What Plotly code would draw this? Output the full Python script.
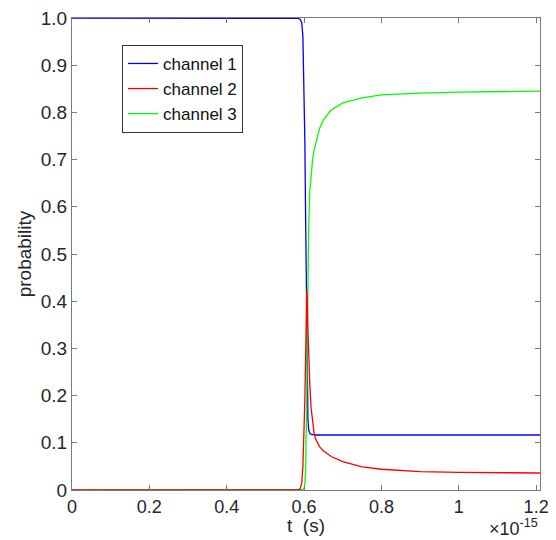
import plotly.graph_objects as go

# time in units of 1e-15 s
t = [0.0, 0.2, 0.4, 0.55, 0.58, 0.585, 0.59, 0.594, 0.597, 0.600, 0.602, 0.604, 0.606,
     0.607, 0.608, 0.610, 0.612, 0.615, 0.618, 0.622, 0.626, 0.630, 0.640, 0.650,
     0.670, 0.700, 0.750, 0.800, 0.900, 1.000, 1.100, 1.210]

channel_1 = [1.0, 1.0, 1.0, 1.0, 0.999, 0.999, 0.997, 0.99, 0.96, 0.86, 0.74, 0.58, 0.40,
             0.32, 0.24, 0.15, 0.127, 0.12, 0.118, 0.117, 0.1166, 0.1165, 0.1165, 0.1165,
             0.1165, 0.1165, 0.1165, 0.1165, 0.1165, 0.1165, 0.1165, 0.1165]

channel_2 = [0.0, 0.0, 0.0, 0.0, 0.0, 0.0, 0.003, 0.015, 0.05, 0.12, 0.19, 0.28, 0.39,
             0.424, 0.41, 0.34, 0.28, 0.22, 0.175, 0.14, 0.12, 0.108, 0.092, 0.083,
             0.071, 0.060, 0.049, 0.044, 0.039, 0.0375, 0.0365, 0.036]

channel_3 = [0.0, 0.0, 0.0, 0.0, 0.0, 0.0, 0.0, 0.0, 0.001, 0.004, 0.012, 0.04, 0.12,
             0.20, 0.30, 0.46, 0.56, 0.635, 0.672, 0.70, 0.72, 0.735, 0.766, 0.784,
             0.805, 0.820, 0.831, 0.837, 0.841, 0.843, 0.844, 0.845]

x_ticks = [0, 0.2, 0.4, 0.6, 0.8, 1.0, 1.2]
x_tick_labels = ["0", "0.2", "0.4", "0.6", "0.8", "1", "1.2"]
y_ticks = [0, 0.1, 0.2, 0.3, 0.4, 0.5, 0.6, 0.7, 0.8, 0.9, 1.0]
y_tick_labels = ["0", "0.1", "0.2", "0.3", "0.4", "0.5", "0.6", "0.7", "0.8", "0.9", "1.0"]

font_family = "Liberation Sans, Arial, Helvetica, sans-serif"

fig = go.Figure()
# draw order: blue, green, red (red peak visible on top); legend order kept 1,2,3
for name, ys, col, rank in [("channel 1", channel_1, "#0000ff", 1),
                            ("channel 3", channel_3, "#00ff00", 3),
                            ("channel 2", channel_2, "#ff0000", 2)]:
    fig.add_trace(go.Scatter(x=t, y=ys, mode="lines", name=name, legendrank=rank,
                             line=dict(color=col, width=1.3)))

axis_common = dict(showline=True, linecolor="#7a7a7a", linewidth=1, mirror="ticks",
                   ticks="inside", ticklen=5, tickcolor="#7a7a7a", showgrid=False,
                   zeroline=False, automargin=False, ticklabeloverflow="allow",
                   tickfont=dict(size=19, color="#262626", family=font_family))

fig.update_xaxes(range=[0, 1.21], tickvals=x_ticks, ticktext=x_tick_labels, **axis_common)
fig.update_xaxes(tickfont=dict(size=18))
fig.update_yaxes(range=[0, 1.0], tickvals=y_ticks, ticktext=y_tick_labels,
                 title=dict(text="probability", font=dict(size=19, color="#262626"), standoff=4),
                 **axis_common)

# x-axis title and exponent label
fig.add_annotation(text="t\u00a0\u00a0(s)", xref="paper", yref="paper",
                   x=0.5, y=-0.076, xanchor="center", yanchor="middle", showarrow=False,
                   font=dict(size=19, color="#262626", family=font_family))
fig.add_annotation(text="×10<sup>-15</sup>", xref="paper", yref="paper",
                   x=1.0, y=-0.109, xanchor="right", yanchor="bottom", showarrow=False,
                   font=dict(size=18, color="#262626", family=font_family))

# the page body adds an 8px margin, so the figure is 8px smaller than the window
fig.update_layout(
    width=548, height=532,
    margin=dict(l=64, r=16, t=10, b=50),
    paper_bgcolor="white", plot_bgcolor="white",
    font=dict(family=font_family, color="#262626"),
    legend=dict(x=0.107, y=0.943, xanchor="left", yanchor="top",
                bgcolor="white", bordercolor="#333333", borderwidth=1,
                font=dict(size=17, color="#111111"), itemwidth=30,
                tracegroupgap=0),
    showlegend=True,
)

fig.write_html("out.html")
